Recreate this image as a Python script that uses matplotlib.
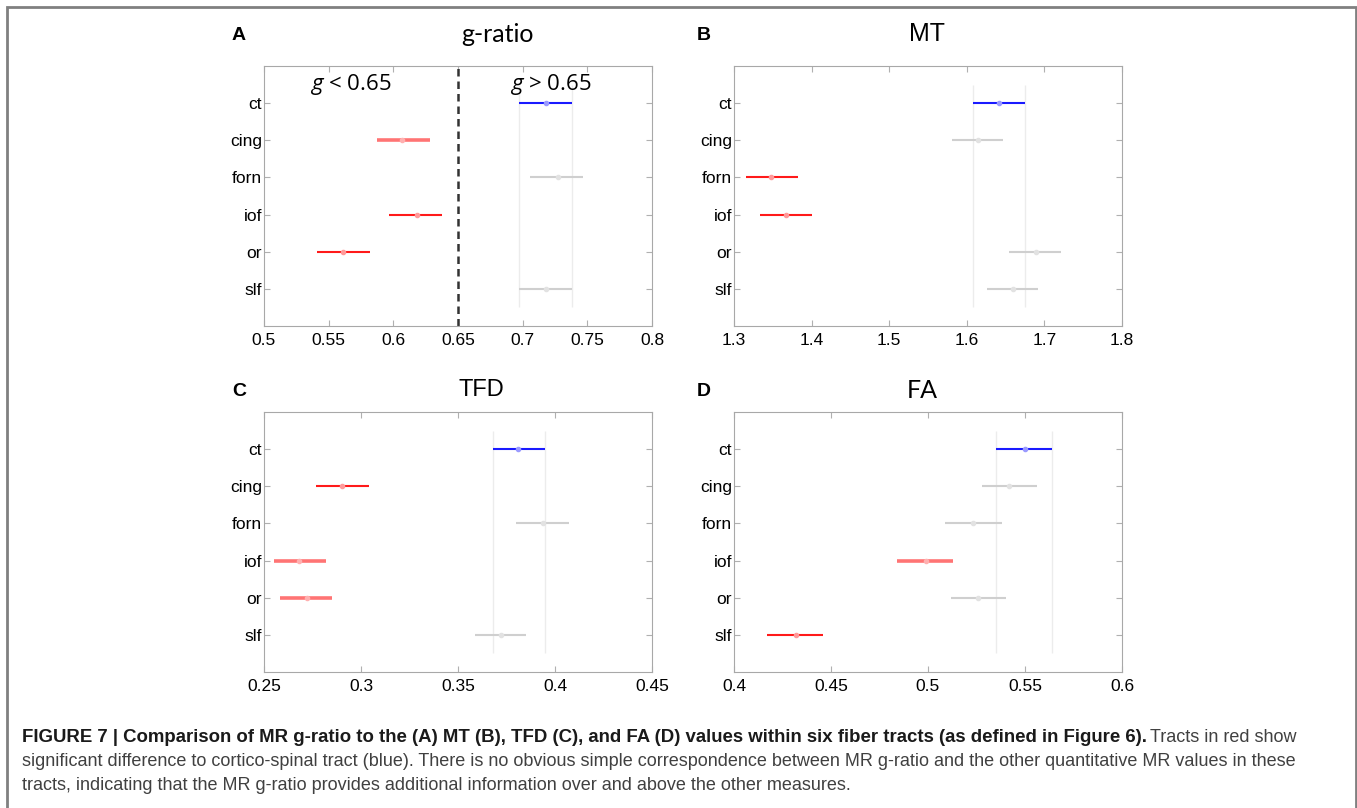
import matplotlib
matplotlib.use('Agg')
import matplotlib.pyplot as plt
from matplotlib.patches import Rectangle

# tracts and per-measure means with lower/upper bounds
tracts = ['ct', 'cing', 'forn', 'iof', 'or', 'slf']

gratio_mean = [0.718, 0.607, 0.727, 0.618, 0.561, 0.718]
gratio_low = [0.697, 0.587, 0.706, 0.597, 0.541, 0.697]
gratio_high = [0.738, 0.628, 0.747, 0.638, 0.582, 0.738]
gratio_group = ['ref', 'sig', 'ns', 'sig', 'sig', 'ns']

mt_mean = [1.641, 1.614, 1.348, 1.367, 1.689, 1.659]
mt_low = [1.608, 1.581, 1.316, 1.334, 1.655, 1.626]
mt_high = [1.675, 1.647, 1.382, 1.400, 1.722, 1.692]
mt_group = ['ref', 'ns', 'sig', 'sig', 'ns', 'ns']

tfd_mean = [0.381, 0.290, 0.394, 0.268, 0.272, 0.372]
tfd_low = [0.368, 0.277, 0.380, 0.255, 0.258, 0.359]
tfd_high = [0.395, 0.304, 0.407, 0.282, 0.285, 0.385]
tfd_group = ['ref', 'sig', 'ns', 'sig', 'sig', 'ns']

fa_mean = [0.550, 0.542, 0.523, 0.499, 0.526, 0.432]
fa_low = [0.535, 0.528, 0.509, 0.484, 0.512, 0.417]
fa_high = [0.564, 0.556, 0.538, 0.513, 0.540, 0.446]
fa_group = ['ref', 'ns', 'ns', 'sig', 'ns', 'sig']

gratio_ticks = [0.5, 0.55, 0.6, 0.65, 0.7, 0.75, 0.8]
mt_ticks = [1.3, 1.4, 1.5, 1.6, 1.7, 1.8]
tfd_ticks = [0.25, 0.3, 0.35, 0.4, 0.45]
fa_ticks = [0.4, 0.45, 0.5, 0.55, 0.6]

gratio_cut = 0.65

# colours
line_col = {'ref': '#1a1aff', 'sig': '#ff1a1a', 'ns': '#cfcfcf'}
dot_col = {'ref': '#9a9aff', 'sig': '#ff9a9a', 'ns': '#e2e2e2'}
# a few red bars come out paler/thicker in the original
pale = {('A', 'cing'), ('C', 'iof'), ('C', 'or'), ('D', 'iof')}

W, H = 1357, 808
fig = plt.figure(figsize=(W / 100, H / 100), dpi=100)

mathfont = 'Open Sans'
plt.rcParams['mathtext.fontset'] = 'custom'
plt.rcParams['mathtext.it'] = mathfont + ':italic'
plt.rcParams['mathtext.rm'] = mathfont

# outer frame (bottom edge runs off the image)
fig.patches.append(Rectangle((7 / W, -0.05), (1356 - 7) / W, 1.05 - 7 / H,
                             transform=fig.transFigure, fill=False,
                             edgecolor='#808080', lw=2))


def px(x0, y0, x1, y1):
    return [x0 / W, 1 - y1 / H, (x1 - x0) / W, (y1 - y0) / H]


panels = [
    ('A', 'g-ratio', px(264, 66, 652, 326), gratio_mean, gratio_low, gratio_high,
     gratio_group, gratio_ticks, (497, 34), 'Lato', 18),
    ('B', 'MT', px(734, 66, 1122, 326), mt_mean, mt_low, mt_high,
     mt_group, mt_ticks, (927, 34), 'Liberation Sans', 18),
    ('C', 'TFD', px(264, 412, 652, 672), tfd_mean, tfd_low, tfd_high,
     tfd_group, tfd_ticks, (481, 390), 'Liberation Sans', 17),
    ('D', 'FA', px(734, 412, 1122, 672), fa_mean, fa_low, fa_high,
     fa_group, fa_ticks, (922, 391), 'Lato', 18),
]

rows = list(range(1, len(tracts) + 1))

for letter, title, rect, mean, low, high, group, ticks, tpos, tfont, tfs in panels:
    ax = fig.add_axes(rect)
    # reference band from the cortico-spinal tract
    ax.vlines([low[0], high[0]], 0.5, 6.5, color='#ececec', lw=1, zorder=1)
    for r, name, m, lo, hi, g in zip(rows, tracts, mean, low, high, group):
        lc, dc, lw = line_col[g], dot_col[g], 1.5
        if (letter, name) in pale:
            lc, dc, lw = '#ff7474', '#ffb0b0', 2.6
        ax.hlines(r, lo, hi, color=lc, lw=lw, zorder=3)
        ax.plot(m, r, 'o', ms=3, mfc=dc, mec=dc, zorder=4)
    if letter == 'A':
        ax.axvline(gratio_cut, color='#333333', lw=1.8, ls=(0, (3, 2)), zorder=2)
        ax.text(0.567, 0.5, r'$g$ < 0.65', ha='center', va='center',
                fontsize=16, family=mathfont)
        ax.text(0.722, 0.5, r'$g$ > 0.65', ha='center', va='center',
                fontsize=16, family=mathfont)
    ax.set_xlim(ticks[0], ticks[-1])
    ax.set_ylim(7, 0)
    ax.set_xticks(ticks)
    ax.set_xticklabels([('%g' % t) for t in ticks], family='Liberation Sans')
    ax.set_yticks(rows)
    ax.set_yticklabels(tracts, family='Liberation Sans')
    ax.tick_params(direction='in', top=True, right=True, length=4,
                   color='#b0b0b0', labelsize=12.5)
    ax.tick_params(axis='y', pad=1.5)
    ax.tick_params(axis='x', pad=5)
    for s in ax.spines.values():
        s.set_color('#a8a8a8')
    fig.text(tpos[0] / W, 1 - tpos[1] / H, title, ha='center', va='center',
             fontsize=tfs, family=tfont)
    lx = 232 if letter in 'AC' else 697
    ly = 35 if letter in 'AB' else 392
    fig.text(lx / W, 1 - ly / H, letter, ha='left', va='center',
             fontsize=14, fontweight='bold', family='Liberation Sans')

# caption
cap_bold = ('FIGURE 7 | Comparison of MR g-ratio to the (A) MT (B), TFD (C), and FA (D) '
            'values within six fiber tracts (as defined in Figure 6).')
cap_rest1 = 'Tracts in red show'
cap_line2 = ('significant difference to cortico-spinal tract (blue). There is no obvious simple '
             'correspondence between MR g-ratio and the other quantitative MR values in these')
cap_line3 = ('tracts, indicating that the MR g-ratio provides additional information over and '
             'above the other measures.')

renderer = fig.canvas.get_renderer()


def fitted_size(s, width, **kw):
    # the original caption font is condensed; scale ours to the same line width
    t = fig.text(0, 0, s, fontsize=12, family='Liberation Sans', **kw)
    w = t.get_window_extent(renderer).width
    t.remove()
    return 12 * width / w


cap_left, cap_right = 22, 1295
fs = fitted_size(cap_line2, cap_right - cap_left)
grey = '#404040'
t2 = fig.text(cap_left / W, 1 - 762 / H, cap_line2, ha='left', va='center',
              fontsize=fs, color=grey, family='Liberation Sans')
fig.text(cap_left / W, 1 - 786 / H, cap_line3, ha='left', va='center',
         fontsize=fs, color=grey, family='Liberation Sans')
tr = fig.text(1297 / W, 1 - 738 / H, cap_rest1, ha='right', va='center',
              fontsize=fs, color=grey, family='Liberation Sans')
rest_x0 = tr.get_window_extent(renderer).x0
gap = 6
fsb = fitted_size(cap_bold, rest_x0 - gap - cap_left, fontweight='bold')
fig.text(cap_left / W, 1 - 738 / H, cap_bold, ha='left', va='center',
         fontsize=fsb, fontweight='bold', color='#1a1a1a', family='Liberation Sans')

fig.savefig('out.png', dpi=100)
